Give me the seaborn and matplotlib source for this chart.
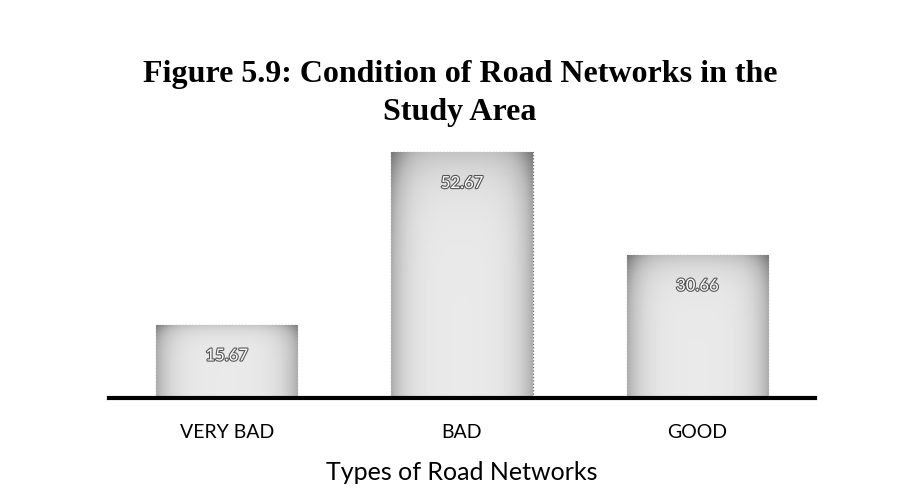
import matplotlib
matplotlib.use("Agg")
import matplotlib.pyplot as plt
import matplotlib.patheffects as pe
import seaborn as sns
import numpy as np
import pandas as pd

categories = ["VERY BAD", "BAD", "GOOD"]
values = [15.67, 52.67, 30.66]
title = "Figure 5.9: Condition of Road Networks in the\nStudy Area"
xlabel = "Types of Road Networks"

df = pd.DataFrame({"condition": categories, "percent": values})

sns.set_theme(style="white")
plt.rcParams["font.family"] = ["Lato", "DejaVu Sans"]
plt.rcParams["text.color"] = "black"
plt.rcParams["xtick.color"] = "black"
plt.rcParams["axes.labelcolor"] = "black"

fig = plt.figure(figsize=(8.97, 4.92), dpi=100)
ax = fig.add_axes([0.1215, 0.191, 0.787, 0.524])

sns.barplot(data=df, x="condition", y="percent", color="#dcdcdc", width=0.6,
            edgecolor="#666666", linewidth=0.9, linestyle=":", ax=ax)

# gradient fill: grey edges fading to a lighter centre, like the scanned bars
gx = np.linspace(-1, 1, 60)
gy = np.linspace(0, 1, 120)
GX, GY = np.meshgrid(gx, gy)
shade = 0.16 + 0.26 * np.abs(GX) ** 4 + 0.18 * GY ** 8
for bar in ax.patches:
    x0, y0 = bar.get_x(), bar.get_y()
    w, h = bar.get_width(), bar.get_height()
    im = ax.imshow(shade, cmap="Greys", vmin=0, vmax=1, aspect="auto",
                   extent=[x0, x0 + w, y0, y0 + h], origin="lower",
                   zorder=bar.get_zorder() + 0.1, interpolation="bilinear")
    im.set_clip_path(bar)

for bar, v in zip(ax.patches, values):
    ax.annotate(f"{v:.2f}", (bar.get_x() + bar.get_width() / 2, v),
                xytext=(0, -22), textcoords="offset points",
                ha="center", va="center", fontsize=12, color="white",
                zorder=5,
                path_effects=[pe.withStroke(linewidth=1.6, foreground="#555555")])

ax.set_xlim(-0.5, 2.5)
ax.set_ylim(0, 55.3)
ax.set_yticks([])
ax.set_ylabel("")
ax.set_xlabel(xlabel, fontsize=18, labelpad=14)
ax.tick_params(axis="x", labelsize=14, length=0, pad=19)
sns.despine(ax=ax, left=True, top=True, right=True)
ax.spines["bottom"].set_linewidth(3)
ax.spines["bottom"].set_color("black")

fig.text(0.513, 0.81, title, ha="center", va="center", fontsize=23,
         fontweight="bold", family="Liberation Serif", linespacing=1.4)

fig.savefig("out.png", dpi=100, facecolor="white")
